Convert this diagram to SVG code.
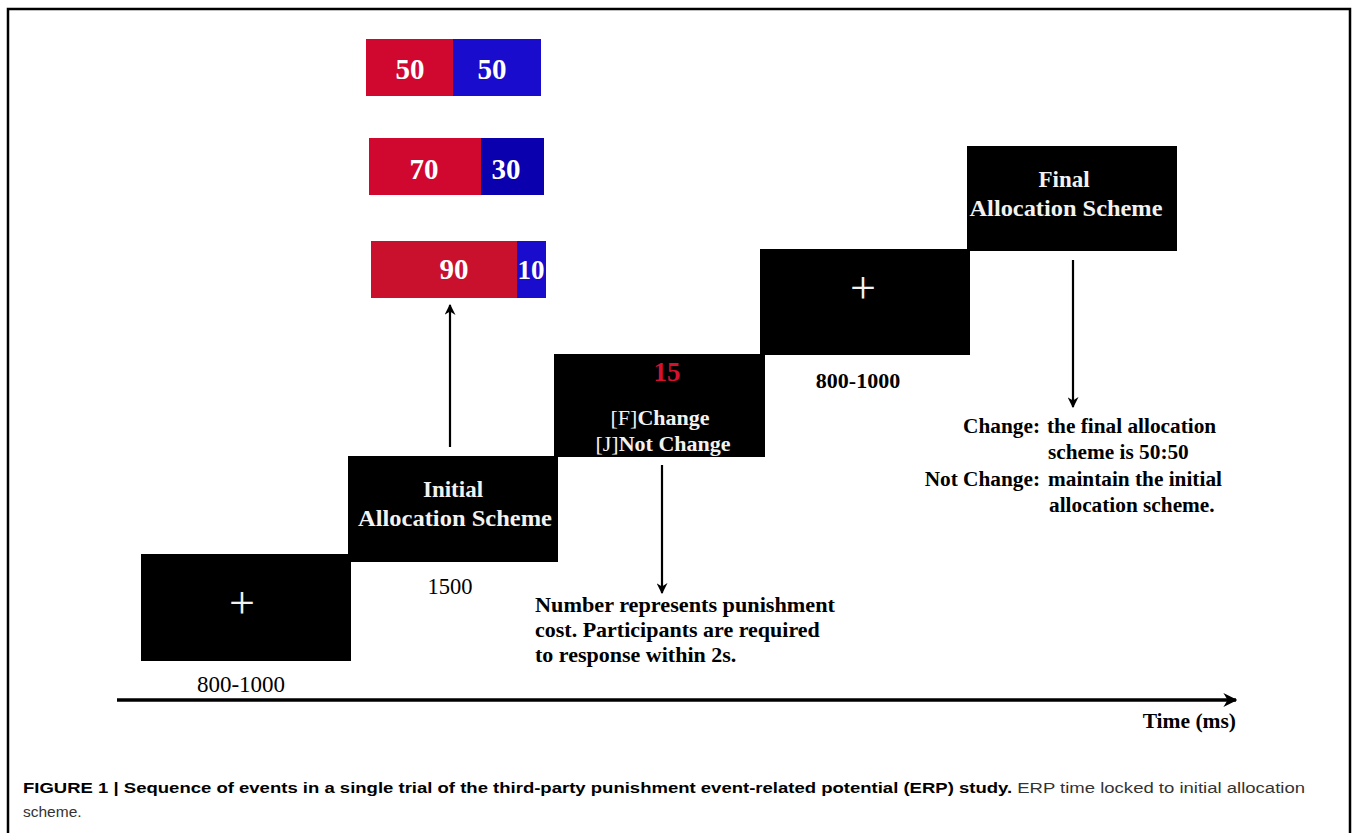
<svg xmlns="http://www.w3.org/2000/svg" width="1358" height="833" viewBox="0 0 1358 833">
<defs>
<marker id="ah" viewBox="0 0 10 10" refX="9" refY="5" markerWidth="5" markerHeight="5" orient="auto" markerUnits="strokeWidth">
<path d="M0,0 L10,5 L0,10 L3,5 z" fill="#000"/>
</marker>
<marker id="ahT" viewBox="0 0 10 10" refX="9" refY="5" markerWidth="4" markerHeight="4" orient="auto" markerUnits="strokeWidth">
<path d="M0,0 L10,5 L0,10 L3,5 z" fill="#000"/>
</marker>
<style>
.box{fill:#000}
.wt{fill:#f2f2f2;font-family:"Liberation Serif",serif;font-weight:bold;text-anchor:middle}
.num{fill:#fff;font-family:"Liberation Serif",serif;font-weight:bold;font-size:29px;text-anchor:middle}
.cross{fill:#f2f2f2;font-family:"Liberation Serif",serif;font-size:46px;text-anchor:middle}
.lbl{fill:#000;font-family:"Liberation Serif",serif;font-size:22px}
.b{font-weight:bold}
.red{fill:#d0082f}
.blue{fill:#1a0ccd}
.conn{stroke:#000;stroke-width:2.2;fill:none;marker-end:url(#ah)}
.cap{font-family:"Liberation Sans",sans-serif;font-size:15.5px}
</style>
</defs>
<rect width="1358" height="833" fill="#fff"/>
<path d="M8,833 V9 H1350 V833" fill="none" stroke="#000" stroke-width="2.5"/>

<g id="bar-50-50">
<rect class="red" x="366" y="39" width="87" height="57"/>
<rect class="blue" x="453" y="39" width="88" height="57"/>
<text class="num" x="410" y="79">50</text>
<text class="num" x="492" y="79">50</text>
</g>
<g id="bar-70-30">
<rect class="red" x="369" y="138" width="112" height="57"/>
<rect x="481" y="138" width="63" height="57" fill="#0b00ae"/>
<text class="num" x="424" y="179">70</text>
<text class="num" x="506" y="179">30</text>
</g>
<g id="bar-90-10">
<rect x="371" y="241" width="146" height="57" fill="#c9102c"/>
<rect class="blue" x="517" y="241" width="29" height="57"/>
<text class="num" x="454" y="279">90</text>
<text class="num" x="531" y="279" style="font-size:27px">10</text>
</g>

<g id="fixation1">
<rect class="box" x="141" y="554" width="210" height="107"/>
<text class="cross" x="242" y="618">+</text>
<text class="lbl" x="241" y="692" text-anchor="middle" style="font-size:23px">800-1000</text>
</g>

<g id="initial">
<rect class="box" x="348" y="456" width="210" height="106"/>
<text class="wt" x="453" y="497" style="font-size:23px">Initial</text>
<text class="wt" x="455" y="526" style="font-size:23px" textLength="194" lengthAdjust="spacingAndGlyphs">Allocation Scheme</text>
<text class="lbl" x="450" y="594" text-anchor="middle" style="font-size:22.5px">1500</text>
</g>

<g id="decision">
<rect class="box" x="554" y="354" width="211" height="103"/>
<text class="wt" x="667" y="381" style="font-size:27px;fill:#d4112f">15</text>
<text class="wt" x="660" y="425" style="font-size:22px"><tspan font-weight="normal">[F]</tspan>Change</text>
<text class="wt" x="663" y="451" style="font-size:22px"><tspan font-weight="normal">[J]</tspan>Not Change</text>
<text class="lbl b" x="535" y="612" textLength="300" lengthAdjust="spacingAndGlyphs">Number represents punishment</text>
<text class="lbl b" x="535" y="637">cost. Participants are required</text>
<text class="lbl b" x="535" y="662">to response within 2s.</text>
</g>

<g id="fixation2">
<rect class="box" x="760" y="249" width="210" height="106"/>
<text class="cross" x="863" y="303">+</text>
<text class="lbl b" x="858" y="388" text-anchor="middle">800-1000</text>
</g>

<g id="final">
<rect class="box" x="967" y="146" width="210" height="105"/>
<text class="wt" x="1064" y="187" style="font-size:23px">Final</text>
<text class="wt" x="1066" y="216" style="font-size:23px" textLength="193" lengthAdjust="spacingAndGlyphs">Allocation Scheme</text>
<g class="lbl b" style="font-size:21.3px">
<text x="1040" y="433" text-anchor="end">Change:</text>
<text x="1047" y="433">the final allocation</text>
<text x="1048" y="459">scheme is 50:50</text>
<text x="1040" y="486" text-anchor="end">Not Change:</text>
<text x="1048" y="486">maintain the initial</text>
<text x="1049" y="512">allocation scheme.</text>
</g>
</g>

<g id="connectors">
<line class="conn" x1="450" y1="447" x2="450" y2="305"/>
<line class="conn" x1="662" y1="465" x2="662" y2="593"/>
<line class="conn" x1="1073" y1="260" x2="1073" y2="407"/>
<line x1="117" y1="700" x2="1236" y2="700" stroke="#000" stroke-width="3.5" marker-end="url(#ahT)"/>
</g>
<text class="lbl b" x="1236" y="728" text-anchor="end" style="font-size:21.5px">Time (ms)</text>

<g id="caption">
<text class="cap" x="23" y="793" textLength="1282" lengthAdjust="spacingAndGlyphs"><tspan font-weight="bold" fill="#000">FIGURE 1 | Sequence of events in a single trial of the third-party punishment event-related potential (ERP) study.</tspan><tspan fill="#333"> ERP time locked to initial allocation</tspan></text>
<text class="cap" x="23" y="817" fill="#333">scheme.</text>
</g>
</svg>
